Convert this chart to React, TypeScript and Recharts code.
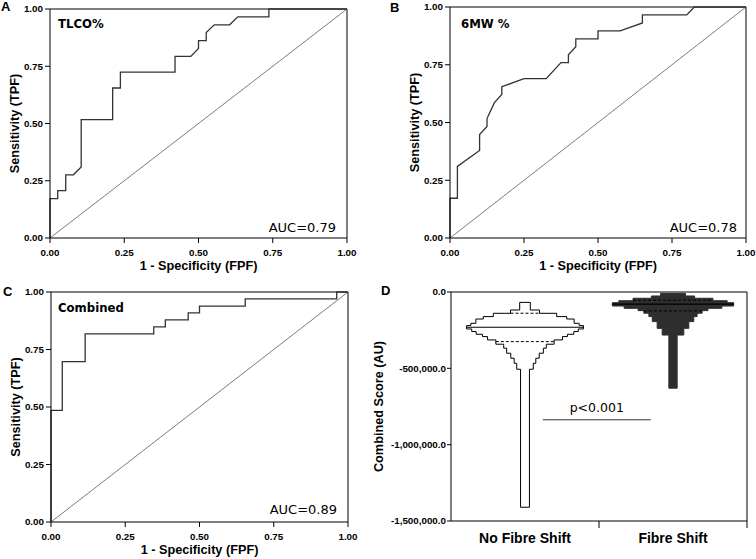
import { LineChart, Line, ScatterChart, Scatter, XAxis, YAxis, ReferenceLine } from 'recharts'

const AXIS_FONT = 'Liberation Sans, Arial, Helvetica, sans-serif'
const NOTE_FONT = 'DejaVu Sans, Verdana, sans-serif'

const rocTicks = [0, 0.25, 0.5, 0.75, 1]

// A: TLCO%
const tlcoFpf = [0, 0, 0.026, 0.026, 0.053, 0.053, 0.079, 0.105, 0.105, 0.211, 0.211, 0.237, 0.237, 0.421, 0.421, 0.474, 0.5, 0.5, 0.526, 0.526, 0.553, 0.605, 0.632, 0.737, 0.737, 1]
const tlcoTpf = [0, 0.172, 0.172, 0.207, 0.207, 0.276, 0.276, 0.31, 0.517, 0.517, 0.655, 0.655, 0.724, 0.724, 0.793, 0.793, 0.828, 0.862, 0.862, 0.897, 0.931, 0.931, 0.966, 0.966, 1, 1]

// B: 6MW %
const walkFpf = [0, 0, 0.025, 0.025, 0.1, 0.1, 0.125, 0.125, 0.15, 0.175, 0.175, 0.25, 0.325, 0.375, 0.4, 0.4, 0.425, 0.425, 0.5, 0.5, 0.575, 0.65, 0.65, 0.8, 0.825, 1]
const walkTpf = [0, 0.172, 0.172, 0.31, 0.379, 0.448, 0.483, 0.517, 0.586, 0.621, 0.655, 0.69, 0.69, 0.759, 0.759, 0.793, 0.828, 0.862, 0.862, 0.897, 0.897, 0.931, 0.966, 0.966, 1, 1]

// C: Combined
const combFpf = [0, 0, 0.038, 0.038, 0.115, 0.115, 0.346, 0.346, 0.385, 0.385, 0.462, 0.462, 0.5, 0.5, 0.654, 0.654, 0.962, 0.962, 1]
const combTpf = [0, 0.485, 0.485, 0.697, 0.697, 0.818, 0.818, 0.848, 0.848, 0.879, 0.879, 0.909, 0.909, 0.939, 0.939, 0.97, 0.97, 1, 1]

// D: stepped violins of the combined score
const groups = ['No Fibre Shift', 'Fibre Shift']
const groupPos = [0.5, 1.5]
const scoreTicks = [0, -500000, -1000000, -1500000]

const noShiftEdges = [-68000, -118000, -139500, -161000, -177000, -205000, -220000, -242000, -259000, -277000, -292000, -314000, -342000, -368000, -401000, -434000, -467000, -506000, -1410000]
const noShiftHalf = [0.036, 0.098, 0.214, 0.282, 0.332, 0.366, 0.395, 0.36, 0.33, 0.287, 0.253, 0.197, 0.144, 0.124, 0.096, 0.073, 0.056, 0.03]
const noShiftMedian = -231000
const noShiftQuartiles = [-139000, -325000]

const shiftEdges = [-9000, -26000, -41000, -57000, -70000, -92000, -107000, -122000, -139000, -161000, -194000, -238000, -282000, -630000]
const shiftHalf = [0.084, 0.146, 0.27, 0.366, 0.41, 0.33, 0.236, 0.197, 0.163, 0.14, 0.107, 0.073, 0.028]
const shiftMedian = -80000
const shiftQuartiles = [-54000, -124000]

const pValue = 'p<0.001'
const pLevel = -837000
const pSpan = [0.62, 1.35]

const zip = (xs: number[], ys: number[]) => xs.map((x, i) => ({ x, y: ys[i] }))

function outline(c: number, edges: number[], half: number[]) {
  const right: { x: number; y: number }[] = []
  half.forEach((h, i) => {
    right.push({ x: c + h, y: edges[i] }, { x: c + h, y: edges[i + 1] })
  })
  const left = right.map(p => ({ x: 2 * c - p.x, y: p.y })).reverse()
  return [...right, ...left, right[0]]
}

function halfAt(edges: number[], half: number[], v: number) {
  for (let i = 0; i < half.length; i++) {
    if (v <= edges[i] && v > edges[i + 1]) return half[i]
  }
  return 0
}

const tickStyle = { fontSize: 9.8, fontWeight: 700, fill: '#000', fontFamily: AXIS_FONT }

function YTitle(props: any) {
  const { viewBox, text, dx } = props
  const x = viewBox.x + dx
  const y = viewBox.y + viewBox.height / 2
  return (
    <text x={x} y={y} transform={`rotate(-90 ${x} ${y})`} textAnchor="middle" dominantBaseline="central"
      fontFamily={AXIS_FONT} fontWeight={700} fontSize={12.7} fill="#000">{text}</text>
  )
}

function XTitle(props: any) {
  const { viewBox, text } = props
  return (
    <text x={viewBox.x + viewBox.width / 2} y={viewBox.y + 32} textAnchor="middle"
      fontFamily={AXIS_FONT} fontWeight={700} fontSize={12.7} fill="#000">{text}</text>
  )
}

function RocPanel({ x0, y0, pw, ph, fpf, tpf }: { x0: number; y0: number; pw: number; ph: number; fpf: number[]; tpf: number[] }) {
  const data = zip(fpf, tpf)
  return (
    <div style={{ position: 'absolute', left: x0 - 50, top: y0 - 10 }}>
      <LineChart width={pw + 60} height={ph + 50} data={data} margin={{ top: 10, right: 10, left: 0, bottom: 0 }}>
        <XAxis type="number" dataKey="x" domain={[0, 1]} ticks={rocTicks} tickFormatter={(v: number) => v.toFixed(2)}
          tick={tickStyle} tickSize={5} tickMargin={6} stroke="#000" height={40}
          label={<XTitle text="1 - Specificity (FPF)" />} />
        <YAxis type="number" domain={[0, 1]} ticks={rocTicks} tickFormatter={(v: number) => v.toFixed(2)}
          tick={tickStyle} tickSize={5} tickMargin={2} stroke="#000" width={50}
          label={<YTitle text="Sensitivity (TPF)" dx={15} />} />
        <ReferenceLine y={1} stroke="#000" strokeWidth={1} />
        <ReferenceLine x={1} stroke="#000" strokeWidth={1} />
        <ReferenceLine segment={[{ x: 0, y: 0 }, { x: 1, y: 1 }]} stroke="#444" strokeWidth={0.7} />
        <Line type="linear" dataKey="y" stroke="#333" strokeWidth={1.3} dot={false} isAnimationActive={false} />
      </LineChart>
    </div>
  )
}

function DTick(props: any) {
  const { x, y, payload } = props
  const v = payload.value as number
  if (Number.isInteger(v)) return <line x1={x} y1={y} x2={x} y2={y + 7} stroke="#000" strokeWidth={1} />
  const idx = groupPos.indexOf(v)
  return (
    <text x={x} y={y + 22} textAnchor="middle" fontFamily={AXIS_FONT} fontWeight={700} fontSize={14} fill="#000">
      {groups[idx]}
    </text>
  )
}

const hidden = () => <g />

function ScorePanel() {
  const x0 = 451, y0 = 292, pw = 296, ph = 229
  const violins = [
    { c: groupPos[0], edges: noShiftEdges, half: noShiftHalf, med: noShiftMedian, q: noShiftQuartiles, fill: '#ffffff', line: '#000' },
    { c: groupPos[1], edges: shiftEdges, half: shiftHalf, med: shiftMedian, q: shiftQuartiles, fill: '#2e2e2e', line: '#2e2e2e' },
  ]
  // horizontal median (solid) and quartile (dashed) bars across each violin
  const bars = violins.flatMap((v, vi) => [
    { key: `m${vi}`, y: v.med, h: halfAt(v.edges, v.half, v.med), c: v.c, dash: undefined as string | undefined, w: 1.2 },
    ...v.q.map((q, i) => ({ key: `q${vi}-${i}`, y: q, h: halfAt(v.edges, v.half, q), c: v.c, dash: '3 2', w: 1 })),
  ])
  return (
    <div style={{ position: 'absolute', left: x0 - 80, top: y0 - 10 }}>
      <ScatterChart width={pw + 90} height={ph + 50} margin={{ top: 10, right: 10, left: 0, bottom: 0 }}>
        <XAxis type="number" dataKey="x" domain={[0, 2]} ticks={[0.5, 1, 1.5, 2]} tick={<DTick />}
          tickLine={false} tickSize={0} tickMargin={0} stroke="#000" height={40} />
        <YAxis type="number" dataKey="y" domain={[-1500000, 0]} ticks={scoreTicks}
          tickFormatter={(v: number) => v.toLocaleString('en-US', { minimumFractionDigits: 1, maximumFractionDigits: 1 })}
          tick={tickStyle} tickSize={4} tickMargin={1} stroke="#000" width={80}
          label={<YTitle text="Combined Score (AU)" dx={8} />} />
        {violins.map((v, vi) => (
          <Scatter key={`o${vi}`} data={outline(v.c, v.edges, v.half)} fill="none"
            line={{ stroke: v.line, strokeWidth: 1, fill: v.fill }}
            shape={hidden} isAnimationActive={false} />
        ))}
        {bars.map(b => (
          <Scatter key={b.key} data={[{ x: b.c - b.h, y: b.y }, { x: b.c + b.h, y: b.y }]} fill="none"
            line={{ stroke: '#000', strokeWidth: b.w, strokeDasharray: b.dash }}
            shape={hidden} isAnimationActive={false} />
        ))}
        <ReferenceLine segment={[{ x: pSpan[0], y: pLevel }, { x: pSpan[1], y: pLevel }]} stroke="#333" strokeWidth={1}
          label={{ value: pValue, position: 'top', offset: 8, fill: '#000', fontSize: 12.5, fontFamily: NOTE_FONT }} />
        <ReferenceLine y={0} stroke="#000" strokeWidth={1} />
        <ReferenceLine x={2} stroke="#000" strokeWidth={1} />
      </ScatterChart>
    </div>
  )
}

export default function App() {
  const letter = { fontFamily: AXIS_FONT, fontWeight: 700, fontSize: 13, fill: '#000' }
  const title = { fontFamily: NOTE_FONT, fontWeight: 700, fontSize: 11.7, fill: '#000' }
  const auc = { fontFamily: NOTE_FONT, fontSize: 13, fill: '#000' }
  return (
    <div style={{ position: 'absolute', left: 0, top: 0, width: 756, height: 559, background: '#fff', overflow: 'hidden' }}>
      <RocPanel x0={50} y0={9} pw={297} ph={229} fpf={tlcoFpf} tpf={tlcoTpf} />
      <RocPanel x0={450} y0={7} pw={296} ph={231} fpf={walkFpf} tpf={walkTpf} />
      <RocPanel x0={51} y0={292} pw={297} ph={230} fpf={combFpf} tpf={combTpf} />
      <ScorePanel />
      <svg width={756} height={559} style={{ position: 'absolute', left: 0, top: 0, pointerEvents: 'none' }}>
        <text x={1} y={11} {...letter}>A</text>
        <text x={390} y={12} {...letter}>B</text>
        <text x={3} y={296} {...letter}>C</text>
        <text x={381} y={295} {...letter}>D</text>
        <text x={58} y={28} {...title}>TLCO%</text>
        <text x={461} y={28} {...title}>6MW %</text>
        <text x={58} y={312} {...title}>Combined</text>
        <text x={336} y={232} textAnchor="end" {...auc}>AUC=0.79</text>
        <text x={737} y={232} textAnchor="end" {...auc}>AUC=0.78</text>
        <text x={337} y={514} textAnchor="end" {...auc}>AUC=0.89</text>
      </svg>
    </div>
  )
}
